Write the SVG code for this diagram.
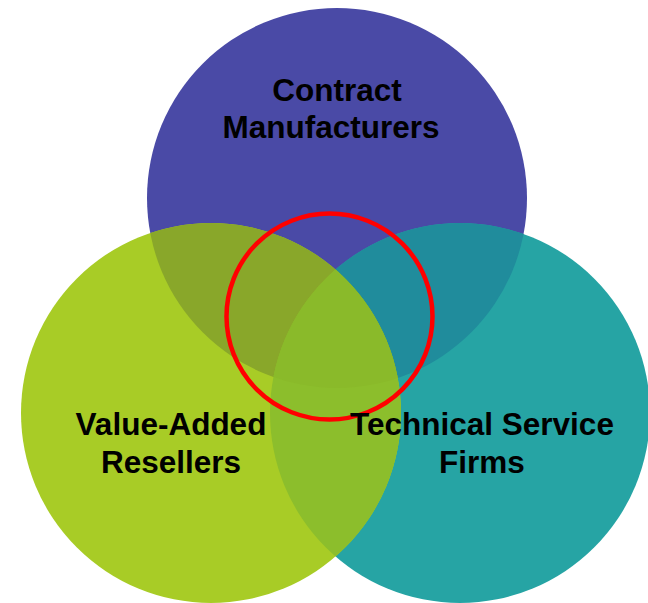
<svg xmlns="http://www.w3.org/2000/svg" width="648" height="603" viewBox="0 0 648 603">
<style>
.lbl{font-family:"Liberation Sans",Arial,sans-serif;font-weight:bold;font-size:31.5px;fill:#000;text-anchor:middle}
</style>
<defs>
<clipPath id="cBlue"><circle cx="337" cy="198" r="190"/></clipPath>
<clipPath id="cTeal"><circle cx="460" cy="413" r="190"/></clipPath>
<clipPath id="cGreen"><circle cx="211" cy="413" r="190"/></clipPath>
</defs>
<rect width="648" height="603" fill="#ffffff"/>
<g id="contract-manufacturers">
<circle cx="337" cy="198" r="190" fill="#4a4aa6"/>
</g>
<g id="technical-service-firms">
<circle cx="460" cy="413" r="190" fill="#26a4a4"/>
</g>
<g id="value-added-resellers">
<circle cx="211" cy="413" r="190" fill="#a8cc26"/>
</g>
<g id="overlaps">
<g clip-path="url(#cBlue)"><circle cx="460" cy="413" r="190" fill="#208c9c"/></g>
<g clip-path="url(#cBlue)"><circle cx="211" cy="413" r="190" fill="#89a72a"/></g>
<g clip-path="url(#cTeal)"><circle cx="211" cy="413" r="190" fill="#8cbe2c"/></g>
<g clip-path="url(#cTeal)"><g clip-path="url(#cBlue)"><circle cx="211" cy="413" r="190" fill="#8aba2a"/></g></g>
</g>
<g id="focus">
<circle cx="329.5" cy="316.5" r="103" fill="none" stroke="#ff0000" stroke-width="4.5"/>
</g>
<g id="labels">
<text class="lbl" x="337" y="101">Contract</text>
<text class="lbl" x="331" y="138">Manufacturers</text>
<text class="lbl" x="171" y="435">Value-Added</text>
<text class="lbl" x="171" y="473">Resellers</text>
<text class="lbl" x="482" y="435">Technical Service</text>
<text class="lbl" x="482" y="473">Firms</text>
</g>
</svg>
